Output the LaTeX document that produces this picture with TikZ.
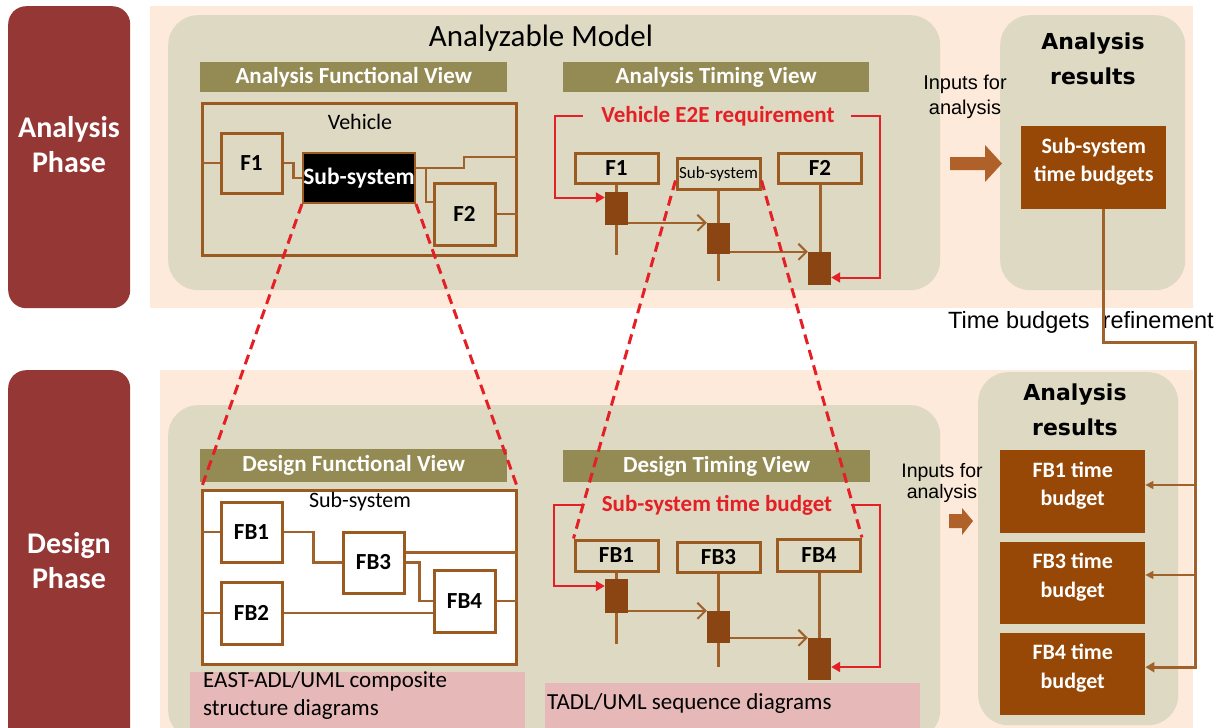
\documentclass[tikz,border=0pt]{standalone}
\usepackage{fontspec}
\setmainfont{Carlito}
\newfontfamily\arialf{Liberation Sans}
\newfontfamily\dejaf{DejaVu Sans}
\usetikzlibrary{arrows.meta,calc}
\definecolor{peach}{HTML}{FDEADA}
\definecolor{maroon}{HTML}{953735}
\definecolor{gbg}{HTML}{DDD9C3}
\definecolor{olive}{HTML}{948A54}
\definecolor{bbrd}{HTML}{9A5A20}
\definecolor{bline}{HTML}{A0622A}
\definecolor{actc}{HTML}{8B4513}
\definecolor{resb}{HTML}{974806}
\definecolor{redc}{HTML}{E41F25}
\definecolor{pinkc}{HTML}{E6B9B8}
\definecolor{arrc}{HTML}{B0612A}
\tikzset{
 phase/.style={fill=maroon, rounded corners=18pt, minimum width=122pt, anchor=north west, inner sep=0pt},
 phasetxt/.style={text=white, align=center, font=\bfseries\fontsize{30}{35}\selectfont},
 gbox/.style={fill=gbg, rounded corners=30pt, anchor=north west, inner sep=0pt},
 bar/.style={fill=olive, anchor=north west, inner sep=0pt, text=white, font=\bfseries\fontsize{23}{26}\selectfont},
 fblk/.style={draw=bbrd, line width=3pt, fill=gbg, inner sep=0pt, font=\bfseries\fontsize{23}{26}\selectfont},
 hdr/.style={draw=bbrd, line width=3pt, fill=gbg, inner sep=0pt, minimum width=83pt, minimum height=30pt, font=\bfseries\fontsize{23}{26}\selectfont},
 wire/.style={draw=bline, line width=2.5pt},
 life/.style={draw=bline, line width=3pt},
 act/.style={fill=actc, inner sep=0pt, minimum width=23pt},
 msg/.style={draw=bline, line width=2pt, -{Straight Barb[length=8pt,width=16pt]}},
 redl/.style={draw=redc, line width=2pt, -{Triangle[length=9pt,width=10pt]}},
 redtxt/.style={text=redc, font=\bfseries\fontsize{23}{26}\selectfont},
 zoomline/.style={draw=redc, line width=3pt, dash pattern=on 10pt off 6pt},
 res/.style={fill=resb, inner sep=0pt, anchor=north west, minimum width=145pt},
 restxt/.style={text=white, align=center, font=\bfseries\fontsize{22}{28.5}\selectfont},
 restitle/.style={align=center, font=\dejaf\bfseries\fontsize{22}{35}\selectfont},
 inp/.style={align=center, font=\arialf\fontsize{20}{25}\selectfont},
 refl/.style={draw=bline, line width=3pt},
 thinl/.style={draw=bline, line width=1.2pt, -{Triangle[length=8pt,width=8pt]}},
 pinkb/.style={fill=pinkc, anchor=north west, inner sep=0pt},
}
\begin{document}
\begin{tikzpicture}[x=1pt,y=-1pt]
\useasboundingbox (0,0) rectangle (1227,728);
\clip (0,0) rectangle (1227,728);
\fill[white] (0,0) rectangle (1227,728);

% backgrounds
\fill[peach] (150,6) rectangle (1193,308);
\fill[peach] (160,370) rectangle (1193,740);
\node[phase, minimum height=302pt] (ap) at (8,6) {};
\node[phasetxt] (apt) at (69,145) {Analysis\\Phase};
\node[phase, minimum height=390pt] (dp) at (8,370) {};
\node[phasetxt] (dpt) at (69,561) {Design\\Phase};

\node[gbox, minimum width=772pt, minimum height=275pt] (am) at (168,15) {};
\node[gbox, minimum width=185pt, minimum height=275pt] (ar1) at (1000,15) {};
\node[gbox, minimum width=772pt, minimum height=335pt] (dm) at (168,405) {};
\node[gbox, minimum width=200pt, minimum height=353pt] (ar2) at (978,372) {};

\node[font=\fontsize{31}{32}\selectfont] (amt) at (541,38) {Analyzable Model};

% bars
\node[bar, minimum width=307pt, minimum height=30pt] (afv) at (200,62) {Analysis Functional View};
\node[bar, minimum width=306pt, minimum height=30pt] (atv) at (563,62) {Analysis Timing View};
\node[bar, minimum width=307pt, minimum height=33pt] (dfvb) at (200,449) {Design Functional View};
\node[bar, minimum width=307pt, minimum height=32pt] (dtv) at (563,450) {Design Timing View};

% pink labels
\node[pinkb, minimum width=335pt, minimum height=60pt] (pk1) at (190,672) {};
\node[anchor=north west, align=left, inner sep=0pt, font=\fontsize{23}{28}\selectfont] (pk1t) at (203,671) {EAST-ADL/UML composite\\structure diagrams};
\node[pinkb, minimum width=375pt, minimum height=50pt] (pk2) at (545,683) {};
\node[anchor=west, inner sep=0pt, font=\fontsize{23}{28}\selectfont] (pk2t) at (547,703) {TADL/UML sequence diagrams};

% ---- Analysis functional view
\node[draw=bbrd, line width=3pt, minimum width=314pt, minimum height=152pt, anchor=north west, inner sep=0pt] (veh) at (201,102) {};
\node[font=\fontsize{22}{24}\selectfont] (vehl) at (360,122) {Vehicle};
\node[fblk, minimum width=61pt, minimum height=60pt] (f1) at (251.5,163) {F1};
\node[fill=black, draw=bbrd, line width=2pt, text=white, inner sep=0pt, minimum width=112pt, minimum height=50pt, font=\bfseries\fontsize{23.5}{26}\selectfont] (sub) at (359,178) {Sub-system};
\node[fblk, minimum width=61pt, minimum height=62pt] (f2) at (464.5,214) {F2};
\draw[wire] (veh.west |- f1.west) -- (f1.west);
\draw[wire] (f1.east) -- ++(10,0) |- (sub.west);
\draw[wire] ([yshift=10pt]sub.east) -- ++(48,0) -- ++(0,-11) -- (veh.east |- 0,157);
\draw[wire] ([yshift=10pt]sub.east) -- ++(10,0) |- ([yshift=12pt]f2.west);
\draw[wire] (f2.east) -- (veh.east |- f2.east);

% ---- Design functional view
\node[draw=bbrd, fill=white, line width=3pt, minimum width=314pt, minimum height=174pt, anchor=north west, inner sep=0pt] (dfv) at (201,489) {};
\node[font=\fontsize{22}{24}\selectfont] (dfvl) at (360,502) {Sub-system};
\node[fblk, fill=white, minimum width=61pt, minimum height=60pt] (fb1) at (251.5,532) {FB1};
\node[fblk, fill=white, minimum width=61pt, minimum height=62pt] (fb2) at (251.5,613) {FB2};
\node[fblk, fill=white, minimum width=61pt, minimum height=61pt] (fb3) at (373.5,562.5) {FB3};
\node[fblk, fill=white, minimum width=61pt, minimum height=62pt] (fb4) at (464.5,601) {FB4};
\draw[wire] (dfv.west |- fb1.west) -- (fb1.west);
\draw[wire] (fb1.east) -- ++(30,0) |- (fb3.west);
\draw[wire] ([yshift=10pt]fb3.east) -- (dfv.east |- 0,552.5);
\draw[wire] (fb3.east) -- ++(14,0) |- (fb4.west);
\draw[wire] (dfv.west |- fb2.west) -- (fb2.west);
\draw[wire] (fb2.east) -- ([yshift=-12pt]fb4.west);
\draw[wire] (fb4.east) -- (dfv.east |- fb4.east);

% ---- Analysis timing view
\node[hdr] (hf1) at (616.5,168) {F1};
\node[hdr, minimum height=31pt, font=\fontsize{17}{18}\selectfont] (hsub) at (718.5,173.5) {Sub-system};
\node[hdr] (hf2) at (820,168) {F2};
\draw[life] (hf1.south) -- ++(0,70);
\draw[life] (hsub.south) -- ++(0,90);
\draw[life] (hf2.south) -- ++(0,80);
\node[act, minimum height=33pt] (af1) at (616.5,208.5) {};
\node[act, minimum height=31pt] (asub) at (718.5,238.5) {};
\node[act, minimum height=33pt] (af2) at (819.5,268.5) {};
\draw[msg] (af1.east |- asub.north) -- (asub.north west);
\draw[msg] (asub.east |- af2.north) -- (af2.north west);
\node[redtxt] (req1) at (718,116) {Vehicle E2E requirement};
\draw[redl] ([xshift=-15pt]req1.west) -- (555,116) |- ([yshift=11pt]af1.west);
\draw[redl] ([xshift=13pt]req1.east) -- (880,116) |- ([yshift=-9pt]af2.east);

% ---- Design timing view
\node[hdr, minimum height=31pt] (hfb1) at (616.5,555.5) {FB1};
\node[hdr] (hfb3) at (718.5,557) {\raisebox{-4pt}{FB3}};
\node[hdr, minimum height=32pt] (hfb4) at (819,555) {FB4};
\draw[life] (hfb1.south) -- ++(0,71);
\draw[life] (hfb3.south) -- ++(0,93);
\draw[life] (hfb4.south) -- ++(0,70);
\node[act, minimum height=34pt] (afb1) at (616.5,596) {};
\node[act, minimum height=32pt] (afb3) at (718.5,627) {};
\node[act, minimum height=42pt] (afb4) at (819.5,659) {};
\draw[msg] (afb1.east |- afb3.north) -- (afb3.north west);
\draw[msg] (afb3.east |- afb4.north) -- (afb4.north west);
\node[redtxt] (req2) at (717,505) {Sub-system time budget};
\draw[redl] ([xshift=-16pt]req2.west) -- (554,505) |- ([yshift=10pt]afb1.west);
\draw[redl] ([xshift=15pt]req2.east) -- (880,505) |- ([yshift=-8pt]afb4.east);

% ---- zoom lines
\draw[zoomline] (sub.south west) -- (dfv.north west);
\draw[zoomline] (sub.south east) -- (dfv.north east);
\draw[zoomline] ([yshift=-7pt]hsub.west) -- (hfb1.north west);
\draw[zoomline] ([yshift=-7pt]hsub.east) -- (hfb4.north east);

% ---- Results (top)
\node[restitle] (rt1) at (1093,59) {Analysis\\results};
\node[inp] (inp1) at (965,97) {Inputs for\\analysis};
\fill[arrc] (950,157) -- (985,157) -- (985,145) -- (1002,163.5) -- (985,182) -- (985,170) -- (950,170) -- cycle;
\node[res, minimum height=83pt] (stb) at (1021,126) {};
\node[restxt] (stbt) at ([yshift=6pt]stb.center) {Sub-system\\time budgets};

% ---- Results (bottom)
\node[restitle] (rt2) at (1075,410) {Analysis\\results};
\node[inp, font=\arialf\fontsize{19.5}{21}\selectfont] (inp2) at (942,483) {Inputs for\\analysis};
\fill[arrc] (949,514) -- (962,514) -- (962,508) -- (973,521) -- (962,535) -- (962,528) -- (949,528) -- cycle;
\node[res, minimum height=83pt] (rfb1) at (1000,450) {};
\node[res, minimum height=82pt] (rfb3) at (1000,542) {};
\node[res, minimum height=82pt] (rfb4) at (1000,633) {};
\node[restxt] (rfb1t) at ([yshift=6pt]rfb1.center) {FB1 time\\budget};
\node[restxt] (rfb3t) at ([yshift=6pt]rfb3.center) {FB3 time\\budget};
\node[restxt] (rfb4t) at ([yshift=6pt]rfb4.center) {FB4 time\\budget};

% ---- refinement
\node[font=\arialf\fontsize{23.5}{24}\selectfont] (tbr) at (1081,322) {Time budgets\ \ refinement};
\coordinate (rv) at (1195,342);
\draw[refl, -{Triangle[length=9pt,width=10pt]}] (stb.south -| 1103,0) -- (1103,342) -- (rv) |- ([yshift=7pt]rfb4.east);
\draw[thinl] (rv |- 0,485) -- (rfb1.east |- 0,485);
\draw[thinl] (rv |- 0,575) -- (rfb3.east |- 0,575);
\end{tikzpicture}
\end{document}
